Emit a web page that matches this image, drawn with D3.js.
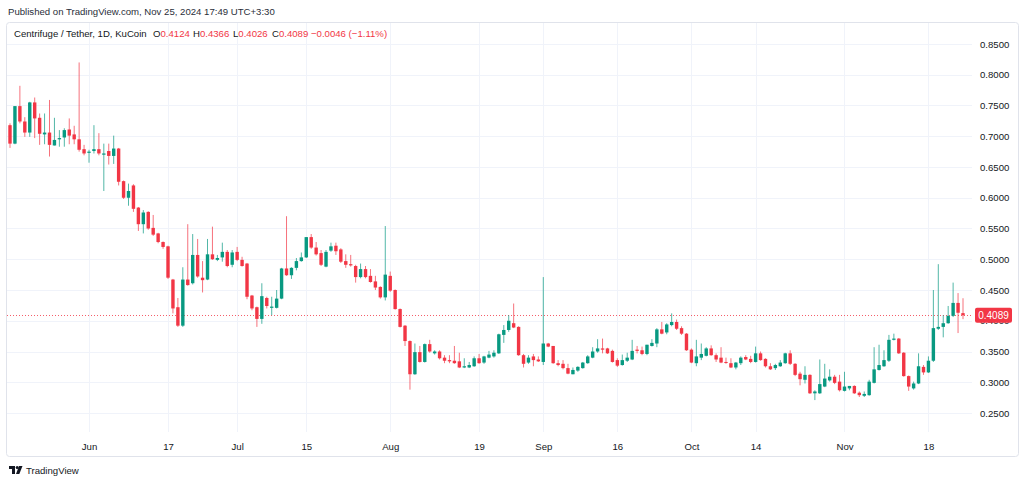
<!DOCTYPE html>
<html>
<head>
<meta charset="utf-8">
<script src="https://cdn.jsdelivr.net/npm/d3@7"></script>
<style>
  html, body { margin: 0; padding: 0; background: #ffffff; }
  svg { display: block; }
  text { font-family: "Liberation Sans", Arial, sans-serif; }
</style>
</head>
<body>
<svg id="chart" width="1024" height="484"></svg>
<script>
// ---- Data (daily candles, Centrifuge / Tether, KuCoin) ----
const startDate = "2024-05-16";
const endDate = "2024-11-25";

const open = [
0.718,0.688,0.749,0.724,0.706,0.755,0.730,0.703,0.706,0.685,
0.695,0.698,0.711,0.703,0.695,0.679,0.673,0.676,0.679,0.670,
0.676,0.668,0.680,0.627,0.600,0.620,0.584,0.557,0.577,0.551,
0.542,0.528,0.521,0.467,0.422,0.392,0.467,0.461,0.507,0.470,
0.467,0.508,0.499,0.503,0.512,0.491,0.512,0.499,0.493,0.441,
0.422,0.403,0.437,0.421,0.421,0.436,0.485,0.474,0.486,0.497,
0.503,0.536,0.519,0.510,0.488,0.514,0.522,0.516,0.497,0.492,
0.489,0.471,0.484,0.473,0.464,0.455,0.438,0.473,0.450,0.419,
0.392,0.367,0.313,0.349,0.333,0.362,0.347,0.350,0.340,0.336,
0.335,0.334,0.324,0.324,0.326,0.339,0.332,0.340,0.342,0.347,
0.377,0.385,0.396,0.390,0.344,0.332,0.342,0.337,0.333,0.363,
0.359,0.331,0.330,0.323,0.313,0.319,0.323,0.331,0.340,0.350,
0.355,0.355,0.351,0.336,0.328,0.335,0.337,0.353,0.352,0.346,
0.359,0.363,0.386,0.381,0.393,0.398,0.388,0.379,0.353,0.331,
0.340,0.343,0.355,0.344,0.340,0.333,0.331,0.324,0.331,0.341,
0.338,0.333,0.347,0.338,0.326,0.323,0.326,0.331,0.347,0.330,
0.314,0.304,0.312,0.282,0.282,0.293,0.303,0.309,0.301,0.286,
0.290,0.294,0.283,0.278,0.279,0.299,0.320,0.326,0.335,0.369,
0.371,0.348,0.310,0.290,0.298,0.325,0.316,0.335,0.387,0.390,
0.396,0.408,0.429,0.4124];

const high = [
0.721,0.749,0.782,0.731,0.756,0.763,0.737,0.737,0.759,0.730,
0.710,0.713,0.729,0.717,0.820,0.686,0.678,0.718,0.705,0.688,
0.688,0.701,0.681,0.628,0.623,0.622,0.585,0.580,0.578,0.572,
0.543,0.529,0.522,0.468,0.437,0.487,0.557,0.541,0.533,0.497,
0.533,0.553,0.507,0.527,0.515,0.515,0.520,0.504,0.494,0.442,
0.423,0.461,0.439,0.439,0.450,0.486,0.570,0.487,0.502,0.511,
0.536,0.541,0.528,0.515,0.515,0.527,0.527,0.518,0.508,0.507,
0.491,0.493,0.489,0.484,0.473,0.456,0.554,0.480,0.451,0.420,
0.393,0.368,0.363,0.359,0.363,0.369,0.352,0.352,0.344,0.344,
0.359,0.348,0.339,0.333,0.342,0.346,0.343,0.351,0.352,0.379,
0.393,0.409,0.428,0.391,0.346,0.344,0.346,0.342,0.471,0.364,
0.359,0.336,0.336,0.330,0.324,0.326,0.333,0.344,0.357,0.370,
0.371,0.356,0.353,0.339,0.345,0.348,0.369,0.359,0.358,0.361,
0.370,0.388,0.398,0.396,0.412,0.402,0.391,0.380,0.355,0.369,
0.363,0.357,0.360,0.347,0.357,0.340,0.339,0.333,0.342,0.344,
0.343,0.358,0.350,0.339,0.331,0.330,0.336,0.348,0.352,0.331,
0.317,0.326,0.313,0.287,0.337,0.330,0.321,0.312,0.312,0.317,
0.294,0.295,0.285,0.285,0.304,0.357,0.361,0.352,0.377,0.379,
0.372,0.349,0.311,0.301,0.347,0.328,0.342,0.450,0.492,0.409,
0.424,0.462,0.445,0.4366];

const low = [
0.681,0.687,0.721,0.699,0.699,0.697,0.686,0.687,0.667,0.685,
0.683,0.683,0.687,0.687,0.675,0.669,0.657,0.672,0.669,0.611,
0.654,0.655,0.620,0.598,0.587,0.577,0.546,0.542,0.548,0.538,
0.526,0.517,0.468,0.412,0.390,0.390,0.457,0.459,0.470,0.446,
0.466,0.499,0.497,0.496,0.487,0.487,0.497,0.488,0.435,0.417,
0.390,0.395,0.420,0.409,0.420,0.435,0.473,0.468,0.482,0.496,
0.502,0.517,0.506,0.489,0.487,0.512,0.507,0.494,0.486,0.488,
0.462,0.469,0.469,0.462,0.450,0.436,0.433,0.447,0.418,0.389,
0.359,0.288,0.312,0.332,0.332,0.348,0.345,0.337,0.331,0.331,
0.330,0.323,0.323,0.323,0.325,0.330,0.330,0.339,0.340,0.346,
0.364,0.382,0.388,0.343,0.324,0.330,0.326,0.333,0.328,0.357,
0.330,0.326,0.321,0.313,0.313,0.317,0.322,0.330,0.339,0.348,
0.347,0.346,0.332,0.325,0.327,0.333,0.336,0.347,0.344,0.344,
0.358,0.357,0.378,0.378,0.391,0.385,0.377,0.351,0.331,0.326,
0.336,0.342,0.343,0.333,0.331,0.330,0.323,0.321,0.328,0.336,
0.331,0.332,0.335,0.324,0.320,0.320,0.325,0.330,0.328,0.310,
0.295,0.298,0.281,0.271,0.281,0.292,0.301,0.297,0.285,0.285,
0.287,0.281,0.276,0.276,0.278,0.298,0.319,0.325,0.333,0.368,
0.346,0.309,0.286,0.288,0.297,0.312,0.315,0.333,0.385,0.373,
0.395,0.406,0.380,0.4026];

const close = [
0.688,0.749,0.724,0.706,0.755,0.729,0.704,0.706,0.686,0.694,
0.697,0.710,0.701,0.695,0.678,0.672,0.675,0.679,0.672,0.672,
0.668,0.680,0.626,0.600,0.611,0.582,0.557,0.576,0.550,0.540,
0.528,0.520,0.470,0.420,0.392,0.467,0.458,0.507,0.472,0.466,
0.508,0.500,0.502,0.512,0.489,0.511,0.499,0.489,0.439,0.420,
0.403,0.440,0.424,0.423,0.436,0.485,0.474,0.486,0.497,0.503,
0.536,0.519,0.508,0.491,0.512,0.521,0.513,0.496,0.491,0.490,
0.471,0.484,0.471,0.463,0.454,0.438,0.475,0.449,0.419,0.390,
0.367,0.313,0.349,0.333,0.362,0.350,0.350,0.339,0.335,0.334,
0.331,0.324,0.326,0.328,0.339,0.331,0.342,0.345,0.348,0.378,
0.385,0.400,0.389,0.344,0.330,0.340,0.336,0.334,0.363,0.358,
0.331,0.328,0.323,0.314,0.320,0.325,0.332,0.342,0.350,0.355,
0.353,0.347,0.333,0.327,0.336,0.340,0.351,0.351,0.346,0.361,
0.364,0.386,0.379,0.394,0.398,0.387,0.379,0.352,0.332,0.342,
0.346,0.355,0.344,0.337,0.332,0.332,0.324,0.332,0.340,0.337,
0.333,0.347,0.336,0.326,0.321,0.328,0.332,0.347,0.330,0.312,
0.305,0.312,0.282,0.285,0.297,0.306,0.309,0.299,0.287,0.293,
0.294,0.282,0.279,0.281,0.301,0.321,0.328,0.336,0.369,0.371,
0.347,0.310,0.293,0.298,0.326,0.316,0.335,0.388,0.390,0.396,
0.408,0.429,0.413,0.4089];

const priceTicks = [0.25,0.30,0.35,0.40,0.45,0.50,0.55,0.60,0.65,0.70,0.75,0.80,0.85];
const timeTickDates = ["2024-06-01","2024-06-17","2024-07-01","2024-07-15","2024-08-01","2024-08-19",
                       "2024-09-01","2024-09-16","2024-10-01","2024-10-14","2024-11-01","2024-11-18"];
const timeTickLabels = ["Jun","17","Jul","15","Aug","19","Sep","16","Oct","14","Nov","18"];

const titleText = "Published on TradingView.com, Nov 25, 2024 17:49 UTC+3:30";
const symbolText = "Centrifuge / Tether, 1D, KuCoin";
const changeText = "\u22120.0046 (\u22121.11%)";
const lastPrice = 0.4089;

// ---- Build ----
const FS = 9.6;
const parse = d3.utcParse("%Y-%m-%d");
const d0 = parse(startDate), d1 = parse(endDate);
const dates = d3.utcDay.range(d0, d3.utcDay.offset(d1, 1));
const candles = dates.map((d, i) => ({date: d, o: open[i], h: high[i], l: low[i], c: close[i]}));

const UP = "#089981", DOWN = "#f23645";
const GRID = "#f0f3fa", TXT = "#131722";

const svg = d3.select("#chart");

const x = d3.scaleUtc().domain([d0, d1]).range([10, 963]);
const y = d3.scaleLinear().domain([0.25, 0.85]).range([413, 44]);
const bodyW = 3.4;

// header text
svg.append("text").attr("x", 8).attr("y", 14.5)
  .attr("font-size", FS).attr("fill", "#2a2e39").text(titleText);

// panel border
svg.append("rect").attr("x", 6.5).attr("y", 22.5).attr("width", 1012).attr("height", 434)
  .attr("rx", 3).attr("fill", "#ffffff").attr("stroke", "#e0e3eb");

const plotTop = 23, plotBottom = 432, plotLeft = 7, plotRight = 972;

// grid
const g = svg.append("g");
g.selectAll("line.h").data(priceTicks).join("line")
  .attr("x1", plotLeft).attr("x2", plotRight)
  .attr("y1", d => Math.round(y(d)) + 0.5).attr("y2", d => Math.round(y(d)) + 0.5)
  .attr("stroke", GRID).attr("stroke-width", 1);
g.selectAll("line.v").data(timeTickDates).join("line")
  .attr("x1", d => Math.round(x(parse(d))) + 0.5).attr("x2", d => Math.round(x(parse(d))) + 0.5)
  .attr("y1", plotTop).attr("y2", plotBottom)
  .attr("stroke", GRID).attr("stroke-width", 1);

// price axis (right)
const yAxis = d3.axisRight(y).tickValues(priceTicks).tickFormat(d3.format(".4f")).tickSize(0).tickPadding(0);
const ya = svg.append("g").attr("transform", "translate(980,0)").call(yAxis);
ya.select(".domain").remove();
ya.selectAll("text").attr("font-size", FS).attr("fill", TXT)
  .attr("font-family", "'Liberation Sans', Arial, sans-serif");

// time axis
const xAxis = d3.axisBottom(x).tickValues(timeTickDates.map(parse))
  .tickFormat((d, i) => timeTickLabels[i]).tickSize(0).tickPadding(0);
const xa = svg.append("g").attr("transform", "translate(0,443)").call(xAxis);
xa.select(".domain").remove();
xa.selectAll("text").attr("font-size", FS).attr("fill", TXT)
  .attr("font-family", "'Liberation Sans', Arial, sans-serif");

// last price dotted line
svg.append("line")
  .attr("x1", plotLeft).attr("x2", plotRight)
  .attr("y1", Math.round(y(lastPrice)) + 0.5).attr("y2", Math.round(y(lastPrice)) + 0.5)
  .attr("stroke", DOWN).attr("stroke-width", 1).attr("stroke-opacity", 0.8)
  .attr("stroke-dasharray", "1,2");

// candles
const cg = svg.append("g");
const cs = cg.selectAll("g.c").data(candles).join("g");
cs.append("line")
  .attr("x1", d => x(d.date)).attr("x2", d => x(d.date))
  .attr("y1", d => y(d.h)).attr("y2", d => y(d.l))
  .attr("stroke", d => d.c >= d.o ? UP : DOWN).attr("stroke-width", 1).attr("stroke-opacity", 0.7);
cs.append("rect")
  .attr("x", d => x(d.date) - bodyW / 2)
  .attr("width", bodyW)
  .attr("y", d => y(Math.max(d.o, d.c)))
  .attr("height", d => Math.max(1, Math.abs(y(d.o) - y(d.c))))
  .attr("fill", d => d.c >= d.o ? UP : DOWN);

// last price label
const ly = y(lastPrice);
svg.append("rect").attr("x", 975).attr("y", ly - 7.5).attr("width", 37).attr("height", 15)
  .attr("rx", 2).attr("fill", DOWN);
svg.append("text").attr("x", 993.5).attr("y", ly + 3.5).attr("text-anchor", "middle")
  .attr("font-size", FS + 0.4).attr("fill", "#ffffff").text(d3.format(".4f")(lastPrice));

// legend
const last = candles[candles.length - 1];
const fmt = d3.format(".4f");
const legY = 36.5;
const legend = svg.append("g").attr("font-size", FS);
legend.append("text").attr("x", 14).attr("y", legY).attr("fill", TXT).text(symbolText);
const ohlcItems = [["O", last.o], ["H", last.h], ["L", last.l], ["C", last.c]];
const legX = [153, 193, 233, 272];
ohlcItems.forEach(([k, v], i) => {
  const t = legend.append("text").attr("x", legX[i]).attr("y", legY);
  t.append("tspan").attr("fill", TXT).text(k);
  t.append("tspan").attr("fill", DOWN).text(fmt(v));
});
legend.append("text").attr("x", 311).attr("y", legY).attr("fill", DOWN).text(changeText);

// footer logo
const logo = svg.append("g").attr("transform", "translate(9,466)");
logo.append("path").attr("d", "M0,0 H6 V8 H3 V3 H0 Z").attr("fill", TXT);
logo.append("circle").attr("cx", 8.2).attr("cy", 1.5).attr("r", 1.5).attr("fill", TXT);
logo.append("path").attr("d", "M10,0 H13.5 L10.3,8 H7 Z").attr("fill", TXT);
svg.append("text").attr("x", 26).attr("y", 474).attr("font-size", FS).attr("fill", TXT)
  .text("TradingView");
</script>
</body>
</html>
